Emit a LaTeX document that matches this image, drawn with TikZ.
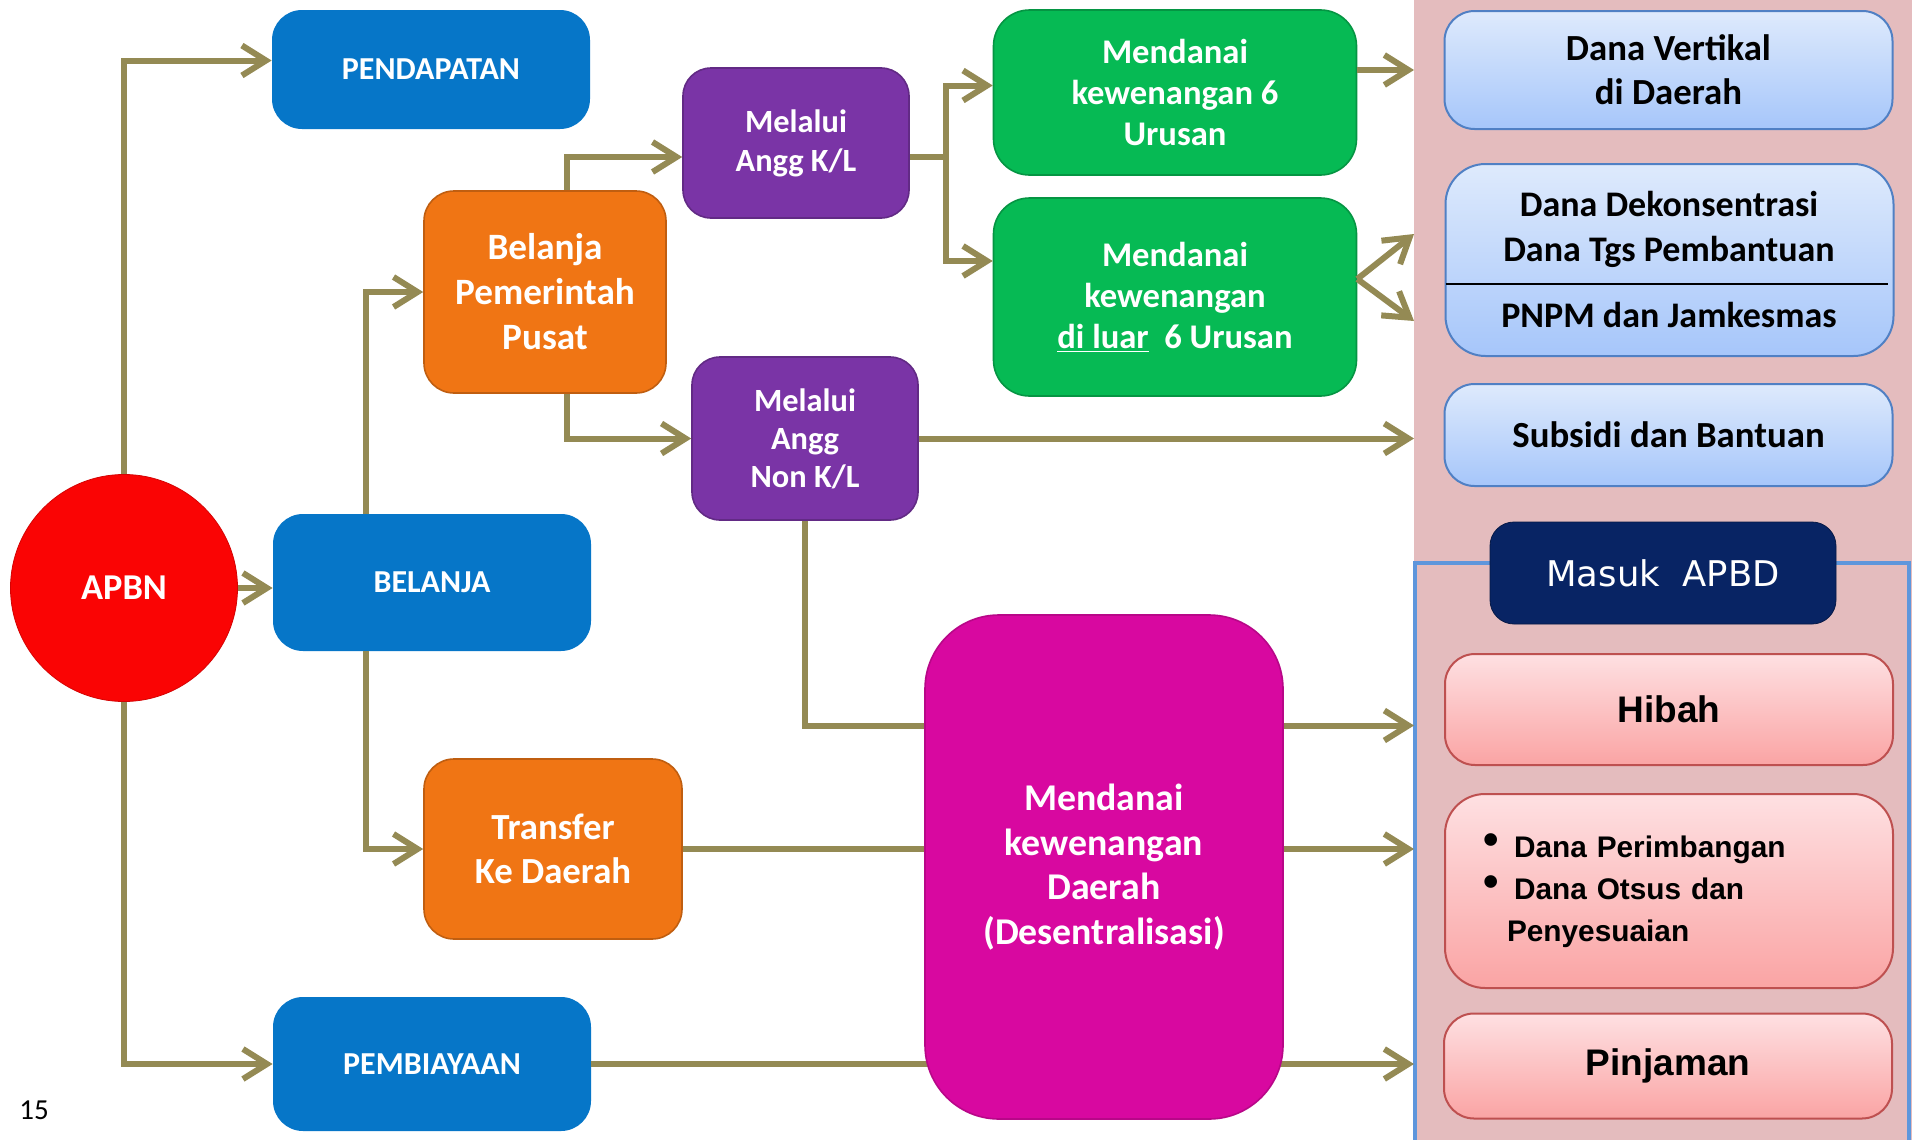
\documentclass[tikz,border=0pt]{standalone}
\usepackage{fontspec}
\setmainfont{Carlito}
\newfontfamily\arialfont{Liberation Sans}
\newfontfamily\tahomafont{DejaVu Sans}
\usetikzlibrary{arrows.meta,calc}

\definecolor{biru}{RGB}{6,118,200}
\definecolor{oranye}{RGB}{240,117,20}
\definecolor{ungu}{RGB}{122,52,166}
\definecolor{hijau}{RGB}{6,186,84}
\definecolor{magenta}{RGB}{216,8,160}
\definecolor{merah}{RGB}{250,4,4}
\definecolor{navy}{RGB}{8,36,100}
\definecolor{zaitun}{RGB}{148,138,84}
\definecolor{latarpink}{RGB}{228,188,190}
\definecolor{garisapbd}{RGB}{94,150,220}
\definecolor{birumudaatas}{RGB}{222,234,252}
\definecolor{birumudabawah}{RGB}{166,198,250}
\definecolor{birutepi}{RGB}{80,128,196}
\definecolor{pinkatas}{RGB}{254,224,226}
\definecolor{pinkbawah}{RGB}{250,164,164}
\definecolor{merahtepi}{RGB}{190,80,80}

\newcommand{\butir}{\makebox[15.5pt][l]{\raisebox{1.5pt}{\fontsize{22}{22}\selectfont\textbullet}}}

\begin{document}
\begin{tikzpicture}[
    x=0.5pt, y=-0.5pt,
    >={Straight Barb[length=12pt,width=15pt]},
    base/.style = {rectangle, rounded corners=15pt, inner sep=0pt,
align=center, text=white},
    pokok/.style = {base, fill=biru, minimum width=159pt,
font=\fontsize{16}{19}\selectfont\bfseries},
    jenis/.style = {base, fill=oranye, draw=oranye!80!black, line width=0.8pt,
font=\fontsize{18.6}{22.5}\selectfont\bfseries},
    anggaran/.style = {base, fill=ungu, draw=ungu!80!black, line width=0.8pt,
rounded corners=14pt, minimum width=113pt, font=\fontsize{16.2}{19.5}\selectfont\bfseries},
    urusan/.style = {base, fill=hijau, draw=hijau!80!black, line width=0.8pt,
rounded corners=18pt, minimum width=181.5pt, font=\fontsize{17.3}{20.5}\selectfont\bfseries},
    pusatbox/.style = {base, top color=birumudaatas, bottom color=birumudabawah,
draw=birutepi, line width=1pt, text=black, minimum width=224pt,
font=\fontsize{18.4}{22}\selectfont\bfseries},
    apbdbox/.style = {base, top color=pinkatas, bottom color=pinkbawah,
draw=merahtepi, line width=1pt, text=black, minimum width=224pt,
font=\arialfont\bfseries\fontsize{18.5}{22}\selectfont},
    alur/.style = {draw=zaitun, line width=3pt}
]

  \fill[white] (0,0) rectangle (1912,1140);
  \useasboundingbox (0,0) rectangle (1912,1140);

  % panel kanan
  \node (panel) [fill=latarpink, minimum width=249pt, minimum height=570pt,
    inner sep=0pt, outer sep=0pt] at (1663,570) {};
  \draw[draw=garisapbd, line width=2pt] (1415,563) rectangle (1909,1160);

  \node (apbn) [circle, fill=merah, draw=merah!85!black, minimum size=113.5pt,
    inner sep=0pt, text=white, font=\fontsize{18.2}{21}\selectfont\bfseries] at (124,588) {APBN};

  \node (pendapatan) [pokok, minimum height=59.5pt] at (431,69.5) {PENDAPATAN};
  \node (belanja) [pokok, minimum height=68.5pt] at (432,582.5) {BELANJA};
  \node (pembiayaan) [pokok, minimum height=67pt] at (432,1064) {PEMBIAYAAN};

  \node (pusat) [jenis, minimum width=121pt, minimum height=101pt] at (545,292)
    {Belanja\\Pemerintah\\Pusat};
  \node (transfer) [jenis, minimum width=129pt, minimum height=90pt,
    font=\fontsize{18.4}{22}\selectfont\bfseries] at (553,849) {Transfer\\Ke Daerah};

  \node (kl) [anggaran, minimum height=75pt] at (796,143) {Melalui\\Angg K/L};
  \node (nonkl) [anggaran, minimum height=81.5pt,
    font=\fontsize{16.2}{19}\selectfont\bfseries] at (805,438.5) {Melalui\\Angg\\Non K/L};

  \node (hijau1) [urusan, minimum height=82.5pt] at (1175,92.5)
    {Mendanai\\kewenangan 6\\Urusan};
  \node (hijau2) [urusan, minimum height=99pt] at (1175,297)
    {Mendanai\\kewenangan\\\underline{di luar}\ \ 6 Urusan};

  \node (vertikal) [pusatbox, minimum height=59pt] at (1668.5,70) {Dana Vertikal\\di Daerah};
  \node (dekon) [pusatbox, rounded corners=20pt, minimum height=96pt] at (1669.5,260) {};
  \node (dekonatas) [text=black, align=center, inner sep=0pt,
    font=\fontsize{18}{22.5}\selectfont\bfseries] at (1669,229)
    {Dana Dekonsentrasi\\Dana Tgs Pembantuan};
  \node (pnpm) [text=black, inner sep=0pt,
    font=\fontsize{18}{22}\selectfont\bfseries] at (1669,315) {PNPM dan Jamkesmas};
  \draw[black, line width=1pt] ($(dekon.west)+(1,24)$) -- ($(dekon.east)+(-7,24)$);
  \node (subsidi) [pusatbox, minimum height=51pt] at (1668.5,435) {Subsidi dan Bantuan};

  \node (masuk) [base, fill=navy, draw=navy!70!black, rounded corners=12pt,
    minimum width=173pt, minimum height=51pt,
    font=\tahomafont\fontsize{17.7}{20}\selectfont] at (1663,573) {Masuk\ \ APBD};

  \node (hibah) [apbdbox, minimum height=55.5pt] at (1669,709.5) {Hibah};
  \node (perimbangan) [apbdbox, rounded corners=20pt, minimum height=97pt,
    text width=186pt, inner xsep=19pt, align=left,
    font=\arialfont\bfseries\fontsize{14.9}{21}\selectfont] at (1669,891)
    {\butir Dana Perimbangan\\\butir Dana Otsus dan\\\hspace*{12pt}Penyesuaian};
  \node (pinjaman) [apbdbox, minimum height=52.5pt] at (1668,1066) {Pinjaman};

  \node (halaman) [font=\fontsize{14.5}{17}\selectfont] at (34,1110) {15};

  \draw[alur,->]     (apbn.north) |- ([yshift=4.5pt]pendapatan.west);
  \draw[alur,->]     (apbn) -- (apbn -| belanja.west);
  \draw[alur,->]     (apbn.south) |- (pembiayaan.west);
  \draw[alur,->]     ([xshift=-33pt]belanja.north) |- (pusat.west);
  \draw[alur,->]     ([xshift=-33pt]belanja.south) |- (transfer.west);
  \draw[alur,->]     ([xshift=11pt]pusat.north) |- ([yshift=-7pt]kl.west);
  \draw[alur,->]     ([xshift=11pt]pusat.south) |- (nonkl.west);

  \coordinate (cabang) at ($(kl.east)+(36,14)$);
  \draw[alur]        (kl.east |- cabang) -- (cabang);
  \draw[alur,->]     (cabang) |- ([yshift=3.5pt]hijau1.west);
  \draw[alur,->]     (cabang) |- ([yshift=18pt]hijau2.west);

  \draw[alur,->]     (hijau1.east |- vertikal) -- (panel.west |- vertikal);
  \draw[alur,->]     ([yshift=9pt]hijau2.east) -- ($(panel.west |- dekonatas)+(0,5)$);
  \draw[alur,->]     ([yshift=9pt]hijau2.east) -- ($(panel.west |- pnpm)+(0,6)$);
  \draw[alur,->]     (nonkl.east) -- (nonkl.east -| panel.west);

  % jalur di belakang kotak desentralisasi
  \draw[alur,->]     (nonkl.south) |- ($(hibah.west -| panel.west)+(0,16)$);
  \draw[alur,->]     (transfer.east) -- (transfer.east -| panel.west);
  \draw[alur,->]     (pembiayaan.east) -- (pembiayaan.east -| panel.west);

  \node (desentral) [base, fill=magenta, draw=magenta!85!black, line width=0.8pt,
    rounded corners=37pt, minimum width=179pt, minimum height=252pt,
    font=\fontsize{18.9}{22.4}\selectfont\bfseries] at (1104,867)
    {Mendanai\\kewenangan\\Daerah\\(Desentralisasi)};

\end{tikzpicture}
\end{document}
